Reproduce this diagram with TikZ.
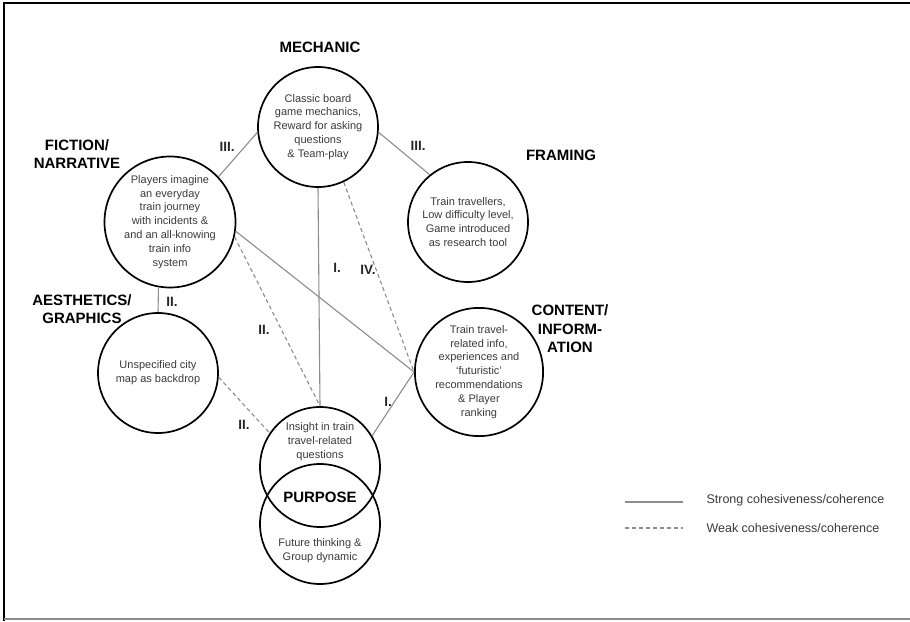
\documentclass[tikz,border=0pt]{standalone}
\usepackage{fontspec}
\setmainfont{Liberation Sans}
\definecolor{linegray}{HTML}{8C8C8C}
\definecolor{txtgray}{HTML}{3A3A3A}
\tikzset{
	disc/.style={circle, draw=black, line width=1.7pt, minimum size=120pt, inner sep=0pt},
	intext/.style={align=center, text=txtgray, font=\fontsize{11}{13.9}\selectfont},
	head/.style={align=center, font=\bfseries\fontsize{15}{18.5}\selectfont},
	num/.style={font=\bfseries\fontsize{13.5}{16}\selectfont, text=black!85},
	strong/.style={draw=linegray, line width=1.1pt},
	weak/.style={draw=linegray, line width=1.1pt, dash pattern=on 4pt off 3pt},
	legtxt/.style={anchor=west, text=txtgray, font=\fontsize{12.5}{15}\selectfont}
}
\begin{document}
\begin{tikzpicture}[x=1pt, y=-1pt]
				\useasboundingbox (0,0) rectangle (910,621);
				\draw[line width=1.8pt] (4,621) -- (4,3) -- (910,3);
				\draw[linegray, line width=1.5pt] (4,619) -- (910,619);
				\node[disc, intext] (mech) at (318,127) {Classic board\\game mechanics,\\Reward for asking\\questions\\\& Team-play};
				\node[disc, intext] (fram) at (468,222) {Train travellers,\\Low difficulty level,\\Game introduced\\as research tool};
				\node[disc, intext] (fict) at (170,222) {Players imagine\\an everyday\\train journey\\with incidents \&\\and an all-knowing\\train info\\system};
				\node[disc, intext] (aest) at (158,373) {Unspecified city\\map as backdrop};
				\node[disc, intext] (cont) at (479,372) {Train travel-\\related info,\\experiences and\\`futuristic'\\recommendations\\\& Player\\ranking};
				\node[disc] (purp) at (320,467) {};
				\node[disc] (fut) at (320,524) {};
				\node[intext] (purptxt) at (320,442) {Insight in train\\travel-related\\questions};
				\node[head] (purphead) at (320,497) {PURPOSE};
				\node[intext] (futtxt) at (320,551) {Future thinking \&\\Group dynamic};
				\node[head] (mechhead) at (320,47) {MECHANIC};
				\node[head] (framhead) at (561,155) {FRAMING};
				\node[head] (ficthead) at (77,154) {FICTION/\\NARRATIVE};
				\node[head] (aesthead) at (82,309) {AESTHETICS/\\GRAPHICS};
				\node[head] (conthead) at (570,329) {CONTENT/\\INFORM-\\ATION};
				\draw[strong] (fict.43) -- (mech.185);
				\draw[strong] (mech.-5) -- (fram.129);
				\draw[strong] (fict.260) -- (aest.north);
				\draw[strong] (mech.south) -- (purp.north);
				\draw[weak] (mech.-65) -- (cont.west);
				\draw[strong] (fict.-8) -- (cont.west);
				\draw[weak] (fict.-13) -- (purp.north);
				\draw[weak] (aest.-4) -- (purp.146);
				\draw[strong] (purp.31) -- (cont.west);
				\node[num] (n1) at (227,147) {III.};
				\node[num] (n2) at (418,146) {III.};
				\node[num] (n3) at (172,302) {II.};
				\node[num] (n4) at (337,268) {I.};
				\node[num] (n5) at (368,270) {IV.};
				\node[num] (n6) at (264,330) {II.};
				\node[num] (n7) at (244,425) {II.};
				\node[num] (n8) at (388,402) {I.};
				\coordinate (s1) at (625,502);
				\coordinate (s2) at (683,502);
				\coordinate (w1) at (625,528);
				\coordinate (w2) at (683,528);
				\draw[strong] (s1) -- (s2);
				\draw[weak] (w1) -- (w2);
				\node[legtxt] (strongtxt) at (703,500) {Strong cohesiveness/coherence};
				\node[legtxt] (weaktxt) at (703,528) {Weak cohesiveness/coherence};
			\end{tikzpicture}
\end{document}
